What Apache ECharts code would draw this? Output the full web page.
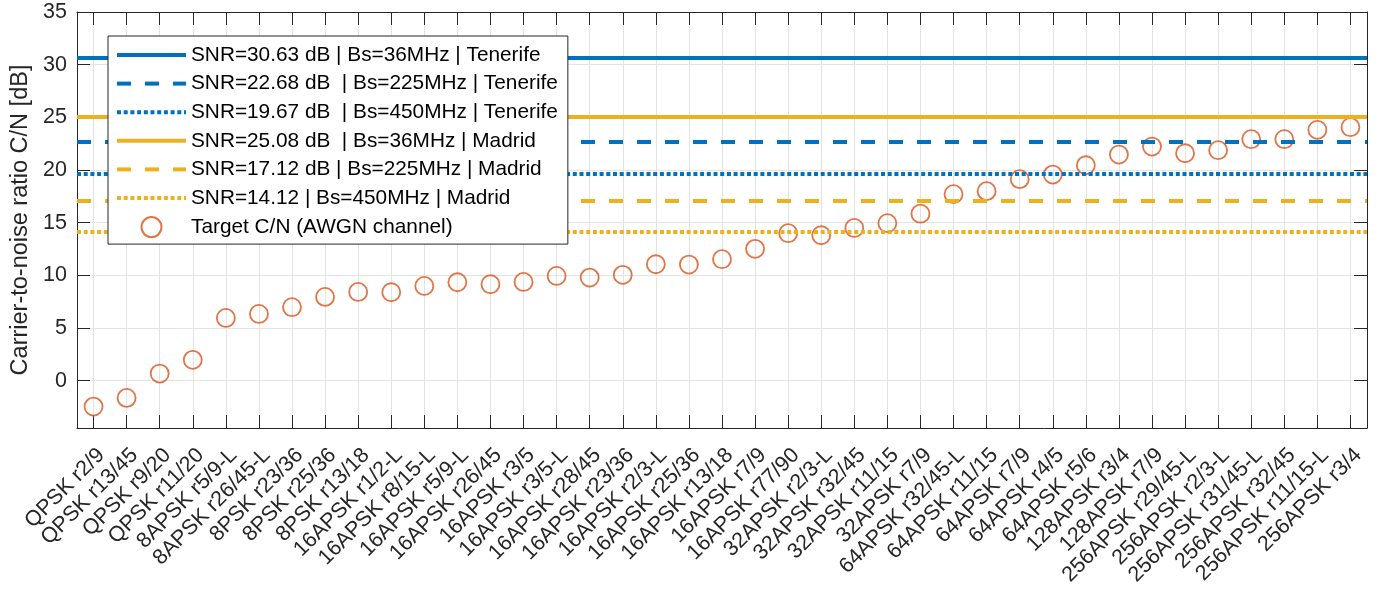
<!DOCTYPE html>
<html>
<head>
<meta charset="utf-8">
<script src="https://cdn.jsdelivr.net/npm/echarts@6/dist/echarts.min.js"></script>
<style>
  html, body { margin: 0; padding: 0; background: #ffffff; }
  #chart { width: 1381px; height: 591px; }
</style>
</head>
<body>
<div id="chart"></div>
<script>
// DVB-S2X MODCODs on the x axis
const categories = [
  'QPSK r2/9', 'QPSK r13/45', 'QPSK r9/20', 'QPSK r11/20',
  '8APSK r5/9-L', '8APSK r26/45-L', '8PSK r23/36', '8PSK r25/36', '8PSK r13/18',
  '16APSK r1/2-L', '16APSK r8/15-L', '16APSK r5/9-L', '16APSK r26/45', '16APSK r3/5',
  '16APSK r3/5-L', '16APSK r28/45', '16APSK r23/36', '16APSK r2/3-L', '16APSK r25/36',
  '16APSK r13/18', '16APSK r7/9', '16APSK r77/90',
  '32APSK r2/3-L', '32APSK r32/45', '32APSK r11/15', '32APSK r7/9',
  '64APSK r32/45-L', '64APSK r11/15', '64APSK r7/9', '64APSK r4/5', '64APSK r5/6',
  '128APSK r3/4', '128APSK r7/9',
  '256APSK r29/45-L', '256APSK r2/3-L', '256APSK r31/45-L', '256APSK r32/45',
  '256APSK r11/15-L', '256APSK r3/4'
];

// Required C/N per MODCOD on an AWGN channel [dB]
const targetCN = [
  -2.47, -1.64, 0.67, 1.97,
  5.95, 6.33, 6.97, 7.95, 8.42,
  8.39, 8.99, 9.34, 9.15, 9.37,
  9.94, 9.78, 10.04, 11.05, 11.02,
  11.53, 12.51, 14.0,
  13.8, 14.5, 14.95, 15.85,
  17.7, 17.99, 19.13, 19.56, 20.45,
  21.46, 22.22,
  21.59, 21.88, 22.92, 22.92,
  23.81, 24.06
];

// Link SNR for each site, per symbol-rate bandwidth (36, 225, 450 MHz)
const tenerifeSNR = [30.63, 22.68, 19.67];
const madridSNR = [25.08, 17.12, 14.12];

const tenerifeNames = [
  'SNR=30.63 dB | Bs=36MHz | Tenerife',
  'SNR=22.68 dB  | Bs=225MHz | Tenerife',
  'SNR=19.67 dB  | Bs=450MHz | Tenerife'
];
const madridNames = [
  'SNR=25.08 dB  | Bs=36MHz | Madrid',
  'SNR=17.12 dB | Bs=225MHz | Madrid',
  'SNR=14.12 | Bs=450MHz | Madrid'
];
const targetName = 'Target C/N (AWGN channel)';

const yTicks = [0, 5, 10, 15, 20, 25, 30, 35];

const FONT = '"Liberation Sans", Arial, Helvetica, sans-serif';
const AXIS_COLOR = '#262626';
const GRID_COLOR = '#e3e3e3';
const BLUE = '#0072BD';
const GOLD = '#EDB120';
const RED = '#D95319';

// stroke patterns for the three bandwidths
const lineTypes = ['solid', [14, 14], [4, 2.7]];

function snrSeries(name, value, color, type) {
  const style = { color: color, width: 4, type: type };
  return {
    name: name,
    type: 'line',
    data: [],
    symbol: 'none',
    color: color,
    lineStyle: style,
    markLine: {
      silent: true,
      symbol: ['none', 'none'],
      label: { show: false },
      emphasis: { disabled: true },
      animation: false,
      lineStyle: style,
      data: [{ yAxis: value }]
    },
    z: 2
  };
}

const series = [];
const legendItems = [];
tenerifeSNR.forEach((v, i) => {
  series.push(snrSeries(tenerifeNames[i], v, BLUE, lineTypes[i]));
  legendItems.push({ name: tenerifeNames[i], itemStyle: { opacity: 0 }, lineStyle: { color: BLUE, width: 4, type: lineTypes[i] } });
});
madridSNR.forEach((v, i) => {
  series.push(snrSeries(madridNames[i], v, GOLD, lineTypes[i]));
  legendItems.push({ name: madridNames[i], itemStyle: { opacity: 0 }, lineStyle: { color: GOLD, width: 4, type: lineTypes[i] } });
});
series.push({
  name: targetName,
  type: 'scatter',
  data: targetCN,
  symbol: 'circle',
  symbolSize: 18,
  itemStyle: { color: 'rgba(255,255,255,0)', borderColor: RED, borderWidth: 1.8 },
  z: 4
});
legendItems.push({ name: targetName });

function ticks() {
  return { show: true, inside: true, length: 13, lineStyle: { color: AXIS_COLOR, width: 1 } };
}
function axisLine() {
  return { show: true, onZero: false, lineStyle: { color: AXIS_COLOR, width: 1 } };
}

const option = {
  animation: false,
  backgroundColor: '#ffffff',
  textStyle: { fontFamily: FONT },
  grid: { left: 77, right: 14, top: 12, bottom: 163, containLabel: false },
  legend: {
    orient: 'vertical',
    left: 108,
    top: 36,
    z: 20,
    itemWidth: 69,
    itemHeight: 20,
    itemGap: 7.6,
    padding: [8.5, 10, 6, 7],
    backgroundColor: '#ffffff',
    borderColor: AXIS_COLOR,
    borderWidth: 1,
    borderRadius: 0,
    textStyle: { fontSize: 20.8, lineHeight: 21, color: '#000000', fontFamily: FONT },
    data: legendItems
  },
  xAxis: [
    {
      type: 'category',
      data: categories,
      boundaryGap: true,
      axisLine: axisLine(),
      axisTick: Object.assign(ticks(), { alignWithLabel: true, interval: 0 }),
      axisLabel: {
        interval: 0, rotate: 45, margin: 16, align: 'right', verticalAlign: 'top',
        fontSize: 21.5, color: AXIS_COLOR, fontFamily: FONT
      },
      splitLine: { show: true, alignWithLabel: true, interval: 0, lineStyle: { color: GRID_COLOR, width: 1 } }
    },
    {
      type: 'category',
      data: categories,
      position: 'top',
      boundaryGap: true,
      axisLine: axisLine(),
      axisTick: Object.assign(ticks(), { alignWithLabel: true, interval: 0 }),
      axisLabel: { show: false },
      splitLine: { show: false }
    }
  ],
  yAxis: [
    {
      type: 'value',
      min: -4.5,
      max: 35,
      name: 'Carrier-to-noise ratio C/N [dB]',
      nameLocation: 'middle',
      nameRotate: 90,
      nameGap: 44,
      nameTextStyle: { fontSize: 23.5, color: AXIS_COLOR, fontFamily: FONT },
      axisLine: axisLine(),
      axisTick: Object.assign(ticks(), { customValues: yTicks }),
      axisLabel: { customValues: yTicks, fontSize: 21.5, margin: 10, color: AXIS_COLOR, fontFamily: FONT },
      splitLine: { show: true, lineStyle: { color: GRID_COLOR, width: 1 } }
    },
    {
      type: 'value',
      min: -4.5,
      max: 35,
      position: 'right',
      axisLine: axisLine(),
      axisTick: Object.assign(ticks(), { customValues: yTicks }),
      axisLabel: { show: false },
      splitLine: { show: false }
    }
  ],
  series: series
};

const chart = echarts.init(document.getElementById('chart'), null, { renderer: 'canvas' });
chart.setOption(option);
</script>
</body>
</html>
